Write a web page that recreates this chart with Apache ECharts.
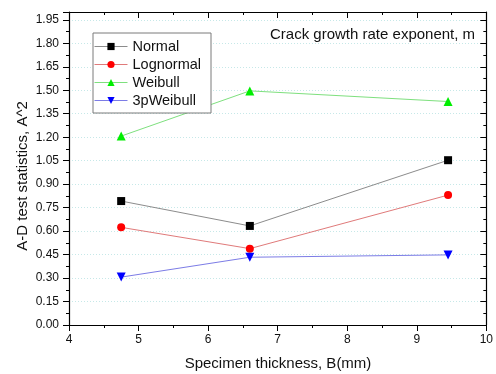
<!DOCTYPE html>
<html>
<head>
<meta charset="utf-8">
<script src="https://cdn.jsdelivr.net/npm/echarts@6/dist/echarts.min.js"></script>
<style>
  html, body { margin: 0; padding: 0; background: #fff; }
  #chart { width: 496px; height: 374px; }
</style>
</head>
<body>
<div id="chart"></div>
<script>
// Specimen thickness B (mm)
const thickness = [4.75, 6.6, 9.45];

// Anderson-Darling statistic A^2 per distribution
const normalVals = [0.792, 0.633, 1.053];
const lognormalVals = [0.624, 0.488, 0.830];
const weibullVals = [1.207, 1.496, 1.428];
const weibull3pVals = [0.306, 0.433, 0.448];

const seriesNames = ['Normal', 'Lognormal', 'Weibull', '3pWeibull'];

const FONT = 'Arial, "Liberation Sans", sans-serif';

function pairs(xs, ys) {
  return xs.map((x, i) => [x, ys[i]]);
}

function makeSeries(name, vals, symbol, symColor, lineColor, size) {
  return {
    name: name,
    type: 'line',
    xAxisIndex: 0,
    yAxisIndex: 0,
    data: pairs(thickness, vals),
    symbol: symbol,
    symbolSize: size,
    showAllSymbol: true,
    itemStyle: { color: symColor },
    lineStyle: { color: lineColor, width: 1 },
    emphasis: { disabled: true },
    z: 3
  };
}

const chart = echarts.init(document.getElementById('chart'), null, { renderer: 'canvas' });

const xCommon = {
  type: 'value', min: 4, max: 10, interval: 1,
  axisLine: { show: true, onZero: false, lineStyle: { color: '#000', width: 1.2 } },
  splitLine: { show: false },
  minorSplitLine: { show: false }
};
const yCommon = {
  type: 'value', min: 0, max: 2.0, interval: 0.15,
  axisLine: { show: true, onZero: false, lineStyle: { color: '#000', width: 1.2 } },
  minorSplitLine: { show: false }
};

chart.setOption({
  animation: false,
  backgroundColor: '#fff',
  grid: { left: 69, right: 9, top: 12, bottom: 49, containLabel: false },
  xAxis: [
    Object.assign({}, xCommon, {
      position: 'bottom',
      axisTick: { show: true, inside: false, length: 6, lineStyle: { color: '#000' } },
      minorTick: { show: true, splitNumber: 2, length: 3, lineStyle: { color: '#000' } },
      axisLabel: { show: true, margin: 9, color: '#111', fontSize: 12, fontFamily: FONT }
    }),
    Object.assign({}, xCommon, {
      position: 'top',
      axisTick: { show: true, inside: true, length: 6, lineStyle: { color: '#000' } },
      minorTick: { show: true, splitNumber: 2, length: 3, lineStyle: { color: '#000' } },
      axisLabel: { show: false }
    })
  ],
  yAxis: [
    Object.assign({}, yCommon, {
      position: 'left',
      axisTick: { show: true, inside: false, length: 6, lineStyle: { color: '#000' } },
      minorTick: { show: true, splitNumber: 2, length: 3, lineStyle: { color: '#000' } },
      splitLine: { show: true, lineStyle: { color: '#c6e8e8', type: [1, 2], width: 1 } },
      axisLabel: {
        show: true, margin: 10, color: '#111', fontSize: 12, fontFamily: FONT,
        showMaxLabel: false,
        formatter: v => v.toFixed(2)
      }
    }),
    Object.assign({}, yCommon, {
      position: 'right',
      axisTick: { show: true, inside: true, length: 6, lineStyle: { color: '#000' } },
      minorTick: { show: true, splitNumber: 2, length: 3, lineStyle: { color: '#000' } },
      splitLine: { show: false },
      axisLabel: { show: false }
    })
  ],
  legend: {
    orient: 'vertical',
    left: 93,
    top: 33,
    data: seriesNames,
    backgroundColor: '#fff',
    borderColor: '#7a7a7a',
    borderWidth: 1,
    padding: [6, 10, 5, 1],
    itemWidth: 33,
    itemHeight: 9,
    itemGap: 3,
    lineStyle: { width: 1 },
    textStyle: { color: '#111', fontSize: 14.5, fontFamily: FONT, padding: [0, 0, 0, 0] },
    selectedMode: false
  },
  graphic: [
    {
      type: 'text', left: 270, top: 27,
      style: { text: 'Crack growth rate exponent, m', fill: '#111', font: '15px ' + FONT }
    },
    {
      type: 'text', x: 23, y: 176, rotation: Math.PI / 2,
      style: {
        text: 'A-D test statistics, A^2', fill: '#111', font: '15px ' + FONT,
        align: 'center', verticalAlign: 'middle'
      }
    },
    {
      type: 'text', x: 278, y: 364,
      style: {
        text: 'Specimen thickness, B(mm)', fill: '#111', font: '15px ' + FONT,
        align: 'center', verticalAlign: 'middle'
      }
    }
  ],
  series: [
    makeSeries('Normal', normalVals, 'rect', '#000000', '#8c8c8c', 8),
    makeSeries('Lognormal', lognormalVals, 'circle', '#ff0000', '#e07a7a', 8),
    makeSeries('Weibull', weibullVals, 'triangle', '#00ee00', '#7ee07e', 9),
    makeSeries('3pWeibull', weibull3pVals, 'path://M0,0 L10,0 L5,9 Z', '#0000ff', '#7c7ce6', 9)
  ]
});
</script>
</body>
</html>
